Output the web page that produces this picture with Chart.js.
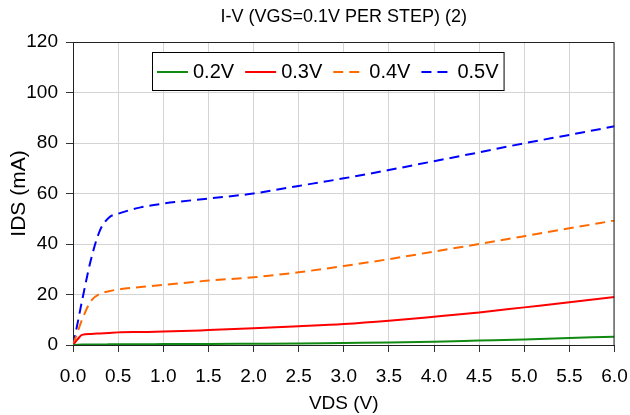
<!DOCTYPE html>
<html>
<head>
<meta charset="utf-8">
<script src="https://cdn.jsdelivr.net/npm/chart.js@4.4.0/dist/chart.umd.min.js"></script>
<style>
  html, body { margin: 0; padding: 0; background: #ffffff; }
  #wrap { width: 630px; height: 415px; position: relative; }
</style>
</head>
<body>
<div id="wrap"><canvas id="c" width="630" height="415"></canvas></div>
<script>
const vds = [0, 0.05, 0.1, 0.2, 0.3, 0.4, 0.5, 0.75, 1.0, 1.5, 2.0, 2.5, 3.0, 3.5, 4.0, 4.5, 5.0, 5.5, 6.0];
const ids02 = [0, 0.1, 0.15, 0.2, 0.2, 0.25, 0.3, 0.3, 0.35, 0.4, 0.5, 0.6, 0.8, 0.95, 1.3, 1.75, 2.2, 2.75, 3.3];
const ids03 = [0, 2.2, 4.0, 4.4, 4.6, 4.8, 5.0, 5.15, 5.3, 5.9, 6.6, 7.4, 8.3, 9.6, 11.2, 12.9, 14.9, 16.9, 19.0];
const ids04 = [0, 5.0, 10.0, 17.5, 20.3, 21.3, 22.0, 23.0, 23.8, 25.5, 26.8, 28.8, 31.3, 34.0, 37.0, 40.0, 43.1, 46.2, 49.3];
const ids05 = [0, 8.5, 17.5, 34.0, 45.5, 50.5, 52.0, 54.5, 56.0, 58.0, 60.0, 63.0, 66.0, 69.3, 72.8, 76.3, 79.9, 83.2, 86.6];
const seriesLabels = ['0.2V', '0.3V', '0.4V', '0.5V'];
const xTicks = [0, 0.5, 1, 1.5, 2, 2.5, 3, 3.5, 4, 4.5, 5, 5.5, 6];
const yTicks = [0, 20, 40, 60, 80, 100, 120];
const titleText = 'I-V (VGS=0.1V PER STEP) (2)';
const xTitle = 'VDS (V)';
const yTitle = 'IDS (mA)';

const FONT = "'Liberation Sans', Arial, Helvetica, sans-serif";
const pts = arr => vds.map((x, i) => ({ x: x, y: arr[i] }));
const styles = [
  { color: '#118a11', dash: [] },
  { color: '#ff0000', dash: [] },
  { color: '#ff6a00', dash: [10, 6] },
  { color: '#0000ff', dash: [10, 6] }
];
const allSeries = [ids02, ids03, ids04, ids05];

const datasets = allSeries.map((arr, i) => ({
  label: seriesLabels[i],
  data: pts(arr),
  borderColor: styles[i].color,
  backgroundColor: styles[i].color,
  borderDash: styles[i].dash,
  borderWidth: 2,
  pointRadius: 0,
  fill: false,
  cubicInterpolationMode: 'monotone'
}));

const frame = {
  id: 'frame',
  afterDatasetsDraw(chart) {
    const { ctx, chartArea: a } = chart;
    ctx.save();
    ctx.strokeStyle = '#222222';
    ctx.lineWidth = 1;
    ctx.beginPath();
    ctx.moveTo(a.left, a.top + 0.5);
    ctx.lineTo(a.right - 0.5, a.top + 0.5);
    ctx.lineTo(a.right - 0.5, a.bottom);
    ctx.stroke();
    ctx.restore();
  },
  afterDraw(chart) {
    const { ctx, chartArea: a } = chart;
    ctx.save();
    const font = '20px ' + FONT;
    ctx.font = font;
    const x0 = a.left + 79, y0 = a.top + 10, h = 38;
    const sample = 31, gapTxt = 5, gapItem = 11, padL = 5, padR = 5;
    let w = padL;
    chart.data.datasets.forEach((d, i) => {
      w += sample + gapTxt + ctx.measureText(d.label).width;
      if (i < chart.data.datasets.length - 1) w += gapItem;
    });
    w += padR;
    ctx.fillStyle = '#ffffff';
    ctx.fillRect(x0, y0, w, h);
    ctx.strokeStyle = '#000000';
    ctx.lineWidth = 1;
    ctx.strokeRect(x0 + 0.5, y0 + 0.5, w, h);
    let x = x0 + padL;
    const cy = y0 + h / 2 + 1;
    chart.data.datasets.forEach((d) => {
      ctx.beginPath();
      ctx.strokeStyle = d.borderColor;
      ctx.lineWidth = 2;
      ctx.setLineDash(d.borderDash || []);
      ctx.moveTo(x, cy);
      ctx.lineTo(x + sample, cy);
      ctx.stroke();
      ctx.setLineDash([]);
      x += sample + gapTxt;
      ctx.fillStyle = '#000000';
      ctx.textBaseline = 'middle';
      ctx.textAlign = 'left';
      ctx.fillText(d.label, x, cy);
      x += ctx.measureText(d.label).width + gapItem;
    });
    ctx.restore();
  }
};

new Chart(document.getElementById('c'), {
  type: 'line',
  data: { datasets: datasets },
  plugins: [frame],
  options: {
    responsive: false,
    animation: false,
    devicePixelRatio: 1,
    layout: { padding: { left: 0, right: 15.5, top: 0, bottom: 0 } },
    plugins: {
      legend: { display: false },
      tooltip: { enabled: false },
      title: {
        display: true,
        fullSize: false,
        text: titleText,
        color: '#000000',
        font: { family: FONT, size: 18, weight: 'normal' },
        padding: { top: 6, bottom: 14.4 }
      }
    },
    scales: {
      x: {
        type: 'linear',
        min: 0,
        max: 6,
        afterBuildTicks: s => { s.ticks = xTicks.map(v => ({ value: v })); },
        afterFit: s => { s.height = 70; s.paddingLeft = 0; s.paddingRight = 0; },
        ticks: {
          color: '#000000',
          font: { family: FONT, size: 19 },
          padding: 13,
          maxRotation: 0,
          callback: v => Number(v).toFixed(1)
        },
        grid: { color: '#d4d4d4', lineWidth: 1, tickLength: 7, tickColor: '#333333' },
        border: { color: '#222222', width: 1 },
        title: {
          display: true,
          text: xTitle,
          color: '#000000',
          font: { family: FONT, size: 19 },
          padding: { top: 0, bottom: 0 }
        }
      },
      y: {
        type: 'linear',
        min: 0,
        max: 120,
        afterBuildTicks: s => { s.ticks = yTicks.map(v => ({ value: v })); },
        afterFit: s => { s.width = 73; s.paddingTop = 0; s.paddingBottom = 0; },
        ticks: {
          color: '#000000',
          font: { family: FONT, size: 19 },
          padding: 8
        },
        grid: { color: '#d4d4d4', lineWidth: 1, tickLength: 7, tickColor: '#333333' },
        border: { color: '#222222', width: 1 },
        title: {
          display: true,
          text: yTitle,
          color: '#000000',
          font: { family: FONT, size: 21 },
          padding: { top: 7, bottom: 0 }
        }
      }
    }
  }
});
</script>
</body>
</html>
